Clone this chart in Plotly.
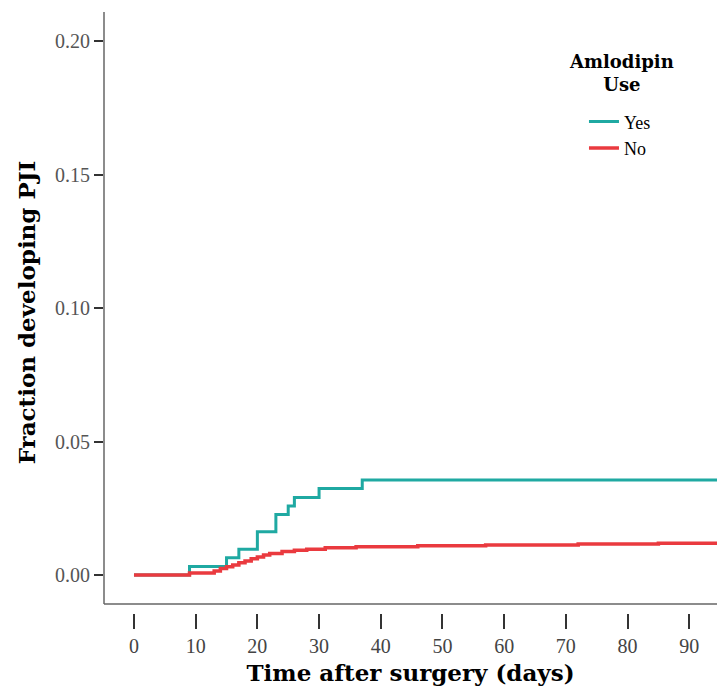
import plotly.graph_objects as go

# Data
yes_days = [0, 9, 15, 17, 20, 23, 25, 26, 30, 37, 95]
yes_frac = [0, 0.0032, 0.0065, 0.0097, 0.0162, 0.0227, 0.0259, 0.0291, 0.0324, 0.0356, 0.0356]

no_days = [0, 9, 13, 14, 15, 16, 17, 18, 19, 20, 21, 22, 24, 26, 28, 31, 36, 46, 57, 72, 85, 95]
no_frac = [0, 0.0008, 0.0015, 0.0025, 0.0031, 0.0038, 0.0046, 0.0053, 0.0061, 0.0068, 0.0075, 0.0081,
           0.0088, 0.0093, 0.0097, 0.0102, 0.0106, 0.0110, 0.0113, 0.0116, 0.0119, 0.0120]

x_ticks = [0, 10, 20, 30, 40, 50, 60, 70, 80, 90]
y_ticks = [0.00, 0.05, 0.10, 0.15, 0.20]
y_ticklabels = ["0.00", "0.05", "0.10", "0.15", "0.20"]

TEAL = "#1FA9A2"
RED = "#EA3A3F"
FONT = "Liberation Serif"
BOLD_FONT = "DejaVu Serif"

fig = go.Figure()
fig.add_trace(go.Scatter(x=yes_days, y=yes_frac, mode="lines", name="Yes",
                         line=dict(color=TEAL, width=3, shape="hv")))
fig.add_trace(go.Scatter(x=no_days, y=no_frac, mode="lines", name="No",
                         line=dict(color=RED, width=3.5, shape="hv")))

gap = 9 / 601.0

fig.update_layout(
    width=717, height=690,
    margin=dict(l=104, r=0, t=12, b=77),
    paper_bgcolor="white", plot_bgcolor="white",
    font=dict(family=FONT, color="#000"),
    showlegend=True,
    legend=dict(
        x=0.783, y=0.848, xanchor="left", yanchor="top",
        bgcolor="rgba(0,0,0,0)",
        font=dict(family=FONT, size=18, color="#000"),
        itemwidth=30,
    ),
    xaxis=dict(
        range=[-4.86, 94.5], tickvals=x_ticks, ticktext=[str(v) for v in x_ticks],
        showgrid=False, zeroline=False, showline=False,
        ticks="outside", ticklen=15, tickwidth=2, tickcolor="#333",
        tickfont=dict(family=FONT, size=20, color="#444"),
        title=dict(text="<b>Time after surgery (days)</b>", standoff=8,
                   font=dict(family=BOLD_FONT, size=23, color="#000")),
    ),
    yaxis=dict(
        range=[-0.0142, 0.2109], tickvals=y_ticks, ticktext=y_ticklabels,
        showgrid=False, zeroline=False, showline=False,
        ticks="outside", ticklen=9, tickwidth=2, tickcolor="#333",
        tickfont=dict(family=FONT, size=20, color="#555"),
        title=dict(text="<b>Fraction developing PJI</b>", standoff=12,
                   font=dict(family=BOLD_FONT, size=23, color="#000")),
    ),
    shapes=[
        dict(type="line", xref="paper", yref="paper", x0=0, x1=1, y0=gap, y1=gap,
             line=dict(color="#666", width=1.5)),
        dict(type="line", xref="paper", yref="paper", x0=0, x1=0, y0=gap, y1=1,
             line=dict(color="#666", width=1.5)),
    ],
    annotations=[
        dict(text="<b>Amlodipin</b><br><b>Use</b>", xref="paper", yref="paper",
             x=0.8434, y=0.899, xanchor="center", yanchor="middle", align="center",
             showarrow=False, font=dict(family=BOLD_FONT, size=18, color="#000")),
    ],
)

fig.write_html(
    "out.html",
    config={"displayModeBar": False},
    post_script="document.body.style.margin='0';document.body.style.overflow='hidden';",
)
